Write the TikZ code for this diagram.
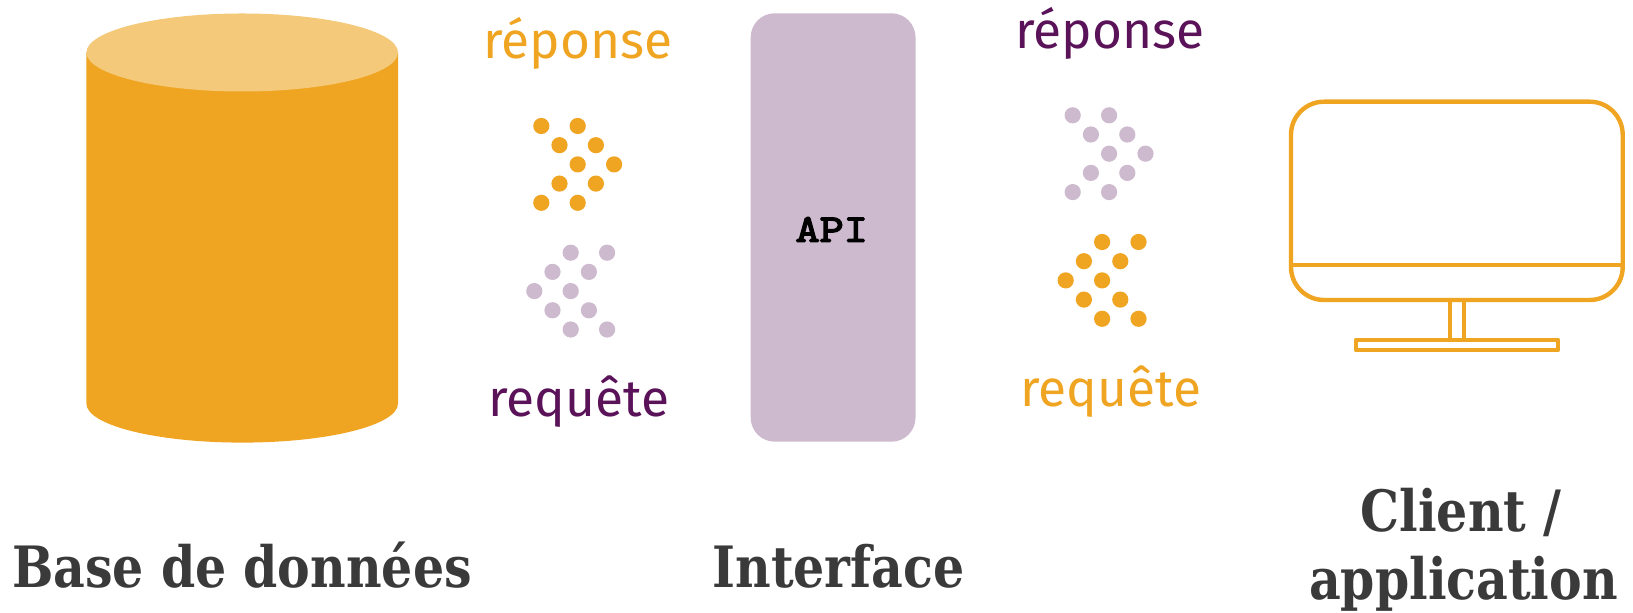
\documentclass[tikz,border=0pt]{standalone}
\usepackage{fontspec}
\setmainfont{Open Sans}
\newfontfamily\lightf{Fira Sans}
\newfontfamily\labelf{DejaVu Serif Bold}[FakeStretch=0.86]
\newfontfamily\apif{Latin Modern Mono}[FakeBold=4,FakeStretch=1.2]
\definecolor{orangeC}{HTML}{F0A522}
\definecolor{orangeL}{HTML}{F4C979}
\definecolor{lilacC}{HTML}{CDBACE}
\definecolor{purpleC}{HTML}{5A1259}
\definecolor{darkC}{HTML}{3A3A3A}
\tikzset{
  word/.style={anchor=base,inner sep=0pt,font=\lightf\fontsize{25.7}{28}\selectfont},
  caption/.style={anchor=base,inner sep=0pt,font=\labelf\fontsize{28.5}{30}\selectfont,text=darkC},
  monitorline/.style={draw=orangeC,line width=2.2pt},
}
\newcommand{\dotsright}[3]{% x0,y0,colour
  \foreach \dx/\dy in {0/0,36.4/0,18.2/19.2,54.6/19.2,36.4/38.4,72.8/38.4,18.2/57.6,54.6/57.6,0/76.8,36.4/76.8}
    \fill[#3] ({#1+\dx},{#2+\dy}) circle (8.1);
}
\newcommand{\dotsleft}[3]{%
  \foreach \dx/\dy in {36.4/0,72.8/0,18.2/19.2,54.6/19.2,0/38.4,36.4/38.4,18.2/57.6,54.6/57.6,36.4/76.8,72.8/76.8}
    \fill[#3] ({#1+\dx},{#2+\dy}) circle (8.1);
}
\begin{document}
\begin{tikzpicture}[x=0.5pt,y=-0.5pt]
\useasboundingbox[fill=white] (0,0) rectangle (1633,613);
% cylinder
\fill[orangeC] (86.4,52.5) -- (86.4,403.6) arc[start angle=180,end angle=0,x radius=155.8,y radius=39] -- (398,52.5) -- cycle;
\fill[orangeL] (242.2,52.5) ellipse[x radius=155.8,y radius=39];
% API box
\node[fill=lilacC,rounded corners=12pt,minimum width=82.4pt,minimum height=214.2pt,inner sep=0pt,anchor=center] (api) at (833.1,227.5) {};
\node[inner sep=0pt,anchor=base,font=\apif\fontsize{19.5}{22}\selectfont] (apilabel) at (831.7,241.7) {API};
% dots
\dotsright{541.3}{126}{orangeC}
\dotsleft{534.3}{252.7}{lilacC}
\dotsright{1072.7}{115.3}{lilacC}
\dotsleft{1065.7}{242}{orangeC}
% words
\node[word,text=orangeC] (rep1) at (578,59) {réponse};
\node[word,text=purpleC] (req1) at (579,416.7) {requête};
\node[word,text=purpleC] (rep2) at (1110,49) {réponse};
\node[word,text=orangeC] (req2) at (1111,406.7) {requête};
% labels
\node[caption] (base) at (242,587.3) {Base de données};
\node[caption] (inter) at (838.5,587.3) {Interface};
\node[caption] (client) at (1461,531.7) {Client /};
\node[caption] (appli) at (1463.5,600) {application};
% monitor
\draw[monitorline,rounded corners=16.5pt] (1291,101.7) rectangle (1622.7,300);
\draw[monitorline] (1291,265) -- (1622.7,265);
\draw[monitorline] (1449.7,300) -- (1449.7,340);
\draw[monitorline] (1464,300) -- (1464,340);
\draw[monitorline,line join=round] (1356,340) rectangle (1558,350);
\end{tikzpicture}
\end{document}
